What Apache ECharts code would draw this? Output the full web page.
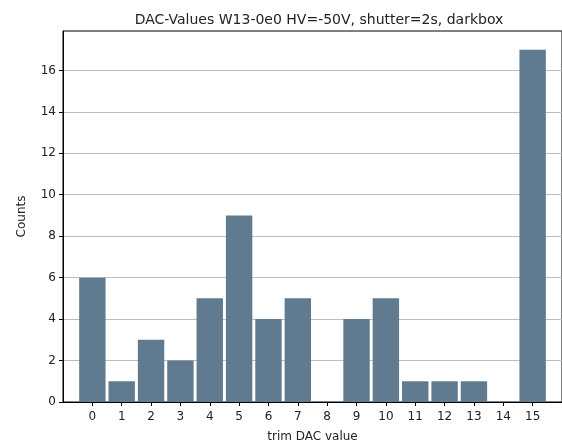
<!DOCTYPE html>
<html>
<head>
<meta charset="utf-8">
<script src="https://cdn.jsdelivr.net/npm/echarts@6/dist/echarts.min.js"></script>
<style>html,body{margin:0;padding:0;background:#fff;}#c{width:562px;height:448px;}</style>
</head>
<body>
<div id="c"></div>
<script>
const categories = [0,1,2,3,4,5,6,7,8,9,10,11,12,13,14,15];
const counts = [6,1,3,2,5,9,4,5,0,4,5,1,1,1,0,17];
const yTicks = [0,2,4,6,8,10,12,14,16];
const titleText = 'DAC-Values W13-0e0 HV=-50V, shutter=2s, darkbox';
const xName = 'trim DAC value';
const yName = 'Counts';

const font = 'DejaVu Sans';
const chart = echarts.init(document.getElementById('c'), null, {renderer:'canvas'});
chart.setOption({
  animation: false,
  backgroundColor: '#fff',
  title: {
    text: titleText, left: 314, top: 8, textAlign: 'center',
    textStyle: {fontFamily: font, fontSize: 14, fontWeight: 'normal', color: '#222'}
  },
  grid: {left: 63, top: 31, width: 503, height: 375, show: true, borderColor: '#000', borderWidth: 1},
  xAxis: {
    type: 'value', min: -1, max: 16, interval: 1,
    name: xName, nameLocation: 'middle', nameGap: 29,
    nameTextStyle: {fontFamily: font, fontSize: 12, color: '#222'},
    axisLine: {show: true, onZero: false, lineStyle: {color: '#000', width: 1}},
    axisTick: {show: true, length: 4, lineStyle: {color: '#000'}, customValues: categories},
    axisLabel: {fontFamily: font, fontSize: 12, color: '#222', margin: 9, customValues: categories},
    splitLine: {show: false}
  },
  yAxis: {
    type: 'value', min: 0, max: 17.9, interval: 2,
    name: yName, nameLocation: 'middle', nameGap: 35,
    nameTextStyle: {fontFamily: font, fontSize: 12, color: '#222'},
    axisLine: {show: true, onZero: false, lineStyle: {color: '#000', width: 1}},
    axisTick: {show: true, length: 4, lineStyle: {color: '#000'}, customValues: yTicks},
    axisLabel: {fontFamily: font, fontSize: 12, color: '#222', margin: 7, customValues: yTicks},
    splitLine: {show: true, lineStyle: {color: '#bcbcbc', width: 1}}
  },
  series: [{
    type: 'bar',
    data: categories.map((c, i) => [c, counts[i]]),
    barWidth: 26.4,
    itemStyle: {color: '#607b8f'}
  }]
});
</script>
</body>
</html>
